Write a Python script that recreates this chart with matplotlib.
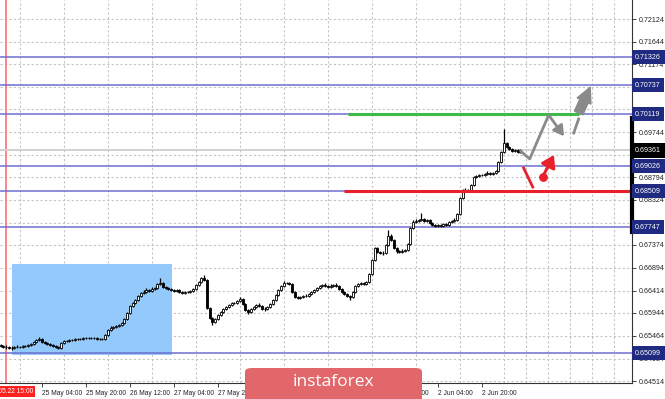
import matplotlib
matplotlib.use("Agg")
import matplotlib.pyplot as plt
import matplotlib.transforms as mtransforms
from matplotlib.patches import Rectangle, FancyBboxPatch
import numpy as np

plt.rcParams['font.family'] = ['Liberation Sans', 'DejaVu Sans']

# --- datos (velas H1, apertura = cierre anterior) ---
first_open = 0.65272
closes = [
    0.65251, 0.65230, 0.65230, 0.65209, 0.65209, 0.65230, 0.65230, 0.65230, 0.65251, 0.65251,
    0.65272, 0.65293, 0.65335, 0.65377, 0.65398, 0.65335, 0.65314, 0.65293, 0.65272, 0.65251,
    0.65230, 0.65209, 0.65314, 0.65356, 0.65356, 0.65377, 0.65377, 0.65398, 0.65398, 0.65398,
    0.65419, 0.65419, 0.65419, 0.65419, 0.65419, 0.65398, 0.65398, 0.65398, 0.65482, 0.65587,
    0.65629, 0.65650, 0.65671, 0.65692, 0.65734, 0.65818, 0.65944, 0.66092, 0.66155, 0.66218,
    0.66302, 0.66365, 0.66386, 0.66428, 0.66407, 0.66449, 0.66470, 0.66554, 0.66575, 0.66491,
    0.66470, 0.66449, 0.66428, 0.66407, 0.66428, 0.66386, 0.66365, 0.66386, 0.66386, 0.66407,
    0.66449, 0.66533, 0.66596, 0.66680, 0.66638, 0.66050, 0.65839, 0.65755, 0.65818, 0.65902,
    0.65965, 0.66028, 0.66071, 0.66113, 0.66155, 0.66155, 0.66197, 0.66239, 0.66134, 0.66007,
    0.65965, 0.66028, 0.66071, 0.66113, 0.66092, 0.66028, 0.66028, 0.66071, 0.66134, 0.66218,
    0.66323, 0.66428, 0.66512, 0.66575, 0.66575, 0.66554, 0.66386, 0.66281, 0.66260, 0.66281,
    0.66302, 0.66302, 0.66344, 0.66386, 0.66428, 0.66470, 0.66512, 0.66533, 0.66512, 0.66491,
    0.66512, 0.66533, 0.66512, 0.66449, 0.66386, 0.66344, 0.66302, 0.66281, 0.66386, 0.66512,
    0.66554, 0.66575, 0.66554, 0.66596, 0.66764, 0.67058, 0.67311, 0.67227, 0.67206, 0.67206,
    0.67374, 0.67563, 0.67479, 0.67311, 0.67248, 0.67227, 0.67248, 0.67269, 0.67395, 0.67731,
    0.67857, 0.67878, 0.67899, 0.67920, 0.67878, 0.67899, 0.67836, 0.67794, 0.67773, 0.67794,
    0.67773, 0.67815, 0.67794, 0.67857, 0.67878, 0.67899, 0.68026, 0.68362, 0.68530, 0.68509,
    0.68530, 0.68635, 0.68803, 0.68824, 0.68845, 0.68845, 0.68866, 0.68887, 0.68866, 0.68887,
    0.68930, 0.69119, 0.69329, 0.69518, 0.69434, 0.69392, 0.69350, 0.69371, 0.69329, 0.69361,
]
highs = [
    0.65300, 0.65275, 0.65262, 0.65248, 0.65240, 0.65255, 0.65265, 0.65250, 0.65280, 0.65275,
    0.65300, 0.65320, 0.65360, 0.65405, 0.65440, 0.65410, 0.65350, 0.65330, 0.65310, 0.65290,
    0.65270, 0.65245, 0.65330, 0.65375, 0.65385, 0.65400, 0.65395, 0.65420, 0.65415, 0.65425,
    0.65440, 0.65435, 0.65440, 0.65435, 0.65440, 0.65430, 0.65420, 0.65415, 0.65500, 0.65610,
    0.65660, 0.65680, 0.65700, 0.65720, 0.65760, 0.65845, 0.65970, 0.66120, 0.66185, 0.66245,
    0.66330, 0.66395, 0.66420, 0.66460, 0.66450, 0.66480, 0.66500, 0.66580, 0.66680, 0.66600,
    0.66510, 0.66490, 0.66470, 0.66450, 0.66455, 0.66445, 0.66400, 0.66410, 0.66415, 0.66430,
    0.66470, 0.66555, 0.66620, 0.66705, 0.66743, 0.66650, 0.66070, 0.65860, 0.65845, 0.65925,
    0.65990, 0.66055, 0.66095, 0.66140, 0.66180, 0.66185, 0.66225, 0.66280, 0.66260, 0.66150,
    0.66025, 0.66050, 0.66095, 0.66140, 0.66150, 0.66110, 0.66060, 0.66100, 0.66160, 0.66245,
    0.66350, 0.66455, 0.66540, 0.66610, 0.66605, 0.66600, 0.66570, 0.66400, 0.66305, 0.66310,
    0.66330, 0.66335, 0.66370, 0.66410, 0.66455, 0.66500, 0.66540, 0.66560, 0.66570, 0.66530,
    0.66545, 0.66560, 0.66575, 0.66530, 0.66465, 0.66400, 0.66360, 0.66320, 0.66410, 0.66535,
    0.66580, 0.66605, 0.66600, 0.66625, 0.66790, 0.67085, 0.67340, 0.67335, 0.67250, 0.67240,
    0.67400, 0.67689, 0.67600, 0.67500, 0.67330, 0.67275, 0.67280, 0.67300, 0.67420, 0.67760,
    0.67890, 0.67910, 0.67930, 0.68047, 0.67950, 0.67925, 0.67915, 0.67855, 0.67815, 0.67820,
    0.67815, 0.67840, 0.67835, 0.67885, 0.67905, 0.67935, 0.68050, 0.68390, 0.68560, 0.68575,
    0.68560, 0.68660, 0.68830, 0.68855, 0.68870, 0.68875, 0.68895, 0.68920, 0.68910, 0.68915,
    0.68960, 0.69150, 0.69360, 0.69813, 0.69545, 0.69460, 0.69410, 0.69400, 0.69390, 0.69385,
]
lows = [
    0.65220, 0.65200, 0.65195, 0.65180, 0.65170, 0.65190, 0.65205, 0.65200, 0.65215, 0.65225,
    0.65235, 0.65255, 0.65280, 0.65320, 0.65360, 0.65310, 0.65290, 0.65270, 0.65250, 0.65225,
    0.65200, 0.65188, 0.65195, 0.65300, 0.65330, 0.65340, 0.65350, 0.65360, 0.65375, 0.65380,
    0.65385, 0.65395, 0.65400, 0.65395, 0.65400, 0.65375, 0.65380, 0.65370, 0.65385, 0.65470,
    0.65570, 0.65610, 0.65630, 0.65655, 0.65675, 0.65720, 0.65800, 0.65930, 0.66070, 0.66140,
    0.66200, 0.66285, 0.66345, 0.66370, 0.66380, 0.66390, 0.66430, 0.66455, 0.66530, 0.66470,
    0.66445, 0.66425, 0.66400, 0.66385, 0.66390, 0.66360, 0.66340, 0.66350, 0.66360, 0.66370,
    0.66390, 0.66435, 0.66515, 0.66580, 0.66615, 0.66030, 0.65810, 0.65692, 0.65735, 0.65800,
    0.65885, 0.65950, 0.66010, 0.66050, 0.66095, 0.66130, 0.66140, 0.66180, 0.66110, 0.65980,
    0.65920, 0.65945, 0.66010, 0.66055, 0.66070, 0.66000, 0.65995, 0.66010, 0.66055, 0.66115,
    0.66200, 0.66305, 0.66410, 0.66495, 0.66545, 0.66530, 0.66360, 0.66255, 0.66230, 0.66240,
    0.66260, 0.66275, 0.66285, 0.66325, 0.66370, 0.66410, 0.66455, 0.66490, 0.66490, 0.66465,
    0.66470, 0.66495, 0.66490, 0.66425, 0.66360, 0.66320, 0.66275, 0.66218, 0.66265, 0.66370,
    0.66495, 0.66530, 0.66525, 0.66530, 0.66575, 0.66745, 0.67040, 0.67200, 0.67180, 0.67170,
    0.67190, 0.67355, 0.67450, 0.67285, 0.67215, 0.67195, 0.67205, 0.67225, 0.67250, 0.67380,
    0.67710, 0.67835, 0.67855, 0.67880, 0.67850, 0.67860, 0.67810, 0.67765, 0.67745, 0.67750,
    0.67745, 0.67755, 0.67770, 0.67775, 0.67840, 0.67860, 0.67885, 0.68010, 0.68340, 0.68480,
    0.68485, 0.68510, 0.68615, 0.68780, 0.68800, 0.68815, 0.68825, 0.68845, 0.68840, 0.68845,
    0.68870, 0.68910, 0.69100, 0.69300, 0.69410, 0.69365, 0.69320, 0.69335, 0.69300, 0.69310,
]

price_ticks = [0.64514, 0.64984, 0.65464, 0.65944, 0.66414, 0.66894, 0.67374, 0.67844, 0.68324,
               0.68794, 0.69274, 0.69744, 0.70224, 0.70704, 0.71174, 0.71644, 0.72124]
level_prices = [0.71326, 0.70737, 0.70119, 0.69026, 0.68509, 0.67747, 0.65099]
current_price = 0.69361
scale_range = (0.67647, 0.70038)

time_bars = [15, 31, 47, 63, 79, 95, 111, 127, 143, 159, 175]
time_labels = ["25 May 04:00", "25 May 20:00", "26 May 12:00", "27 May 04:00", "27 May 20:00",
               "28 May 12:00", "29 May 04:00", "29 May 20:00", "1 Jun 12:00", "2 Jun 04:00",
               "2 Jun 20:00"]
marker_bar = 2
marker_label = "2020.05.22 15:00"

zone_bars = [4.2, 62.2]
zone_prices = [0.65061, 0.66975]

green_bars = [126.5, 210.2]
green_price = 0.70119
red_bars = [124.7, 229.6]
red_price = 0.68509

gray_path_bars = [189.1, 192.4, 199.3]
gray_path_prices = [0.69350, 0.69182, 0.70107]
gray_down_tip = (204.9, 0.69660)
gray_up_tail_bars = [208.4, 210.2]
gray_up_tail_prices = [0.69729, 0.70023]
gray_up_head = [(210.2, 0.70149), (214.4, 0.70690)]

red_slash_bars = [190.2, 193.5]
red_slash_prices = [0.68993, 0.68593]
red_ball = (197.1, 0.68804)
red_tip = (201.2, 0.69266)

# --- figura ---
fig = plt.figure(figsize=(6.65, 3.99), dpi=100)
ax = fig.add_axes([0, 16 / 399, 632 / 665, 383 / 399])
ax.set_xlim(-0.2, 229.6)
ax.set_ylim(0.64472, 0.72525)

# rejilla punteada
grid_bars = np.arange(7, 230, 8)
ax.set_xticks(grid_bars, minor=True)
ax.grid(which='minor', axis='x', color='#c4c4c4', linestyle=(0, (2, 2)), linewidth=0.8)
ax.grid(which='major', axis='y', color='#c4c4c4', linestyle=(0, (2, 2)), linewidth=0.8)
ax.set_axisbelow(True)

ax.add_patch(Rectangle((zone_bars[0], zone_prices[0]), zone_bars[1] - zone_bars[0],
                       zone_prices[1] - zone_prices[0], facecolor='#94c9fb', edgecolor='none', zorder=1))

ax.axvline(marker_bar, color='#ff7070', lw=1.2, zorder=1.5)
for p in level_prices:
    ax.axhline(p, color='#6e6ed0', lw=1.1, zorder=1.6)
ax.axhline(current_price, color='#d0d0d0', lw=1.4, zorder=1.6)

# velas
x = np.arange(len(closes))
c = np.array(closes)
o = np.array([first_open] + closes[:-1])
ax.vlines(x, lows, highs, color='black', lw=0.9, zorder=3)
bottom = np.minimum(o, c)
height = np.maximum(np.abs(c - o), 0.00005)
faces = ['white' if cc > oo else 'black' for oo, cc in zip(o, c)]
ax.bar(x, height, bottom=bottom, width=0.75, color=faces, edgecolor='black', linewidth=0.6, zorder=3.5)

# niveles objetivo
ax.plot(green_bars, [green_price] * 2, color='#3cba4a', lw=2.2, zorder=4, solid_capstyle='butt')
ax.plot(red_bars, [red_price] * 2, color='#e8202a', lw=2.2, zorder=4, solid_capstyle='butt')

# flechas de pronostico
gray = '#8a8a8a'
ax.plot(gray_path_bars, gray_path_prices, color=gray, lw=2.0, zorder=5, solid_capstyle='round')
ax.annotate('', xy=gray_down_tip, xytext=(gray_path_bars[-1], gray_path_prices[-1]),
            arrowprops=dict(arrowstyle='-|>,head_length=0.6,head_width=0.35', color=gray, lw=2.0,
                            shrinkA=0, shrinkB=0), zorder=5)
ax.plot(gray_up_tail_bars, gray_up_tail_prices, color=gray, lw=2.0, zorder=5)
ax.annotate('', xy=gray_up_head[1], xytext=gray_up_head[0],
            arrowprops=dict(arrowstyle='simple,head_length=0.9,head_width=0.9,tail_width=0.55',
                            color=gray, shrinkA=0, shrinkB=0, mutation_scale=12), zorder=5)

ax.plot(red_slash_bars, red_slash_prices, color='#e8202a', lw=2.0, zorder=5)
ax.annotate('', xy=red_tip, xytext=red_ball,
            arrowprops=dict(arrowstyle='-|>,head_length=0.7,head_width=0.45', color='#e8202a', lw=2.2,
                            shrinkA=0, shrinkB=0), zorder=5)
ax.scatter([red_ball[0]], [red_ball[1]], s=40, color='#e8202a', zorder=5.5, linewidths=0)

# ejes estilo terminal
for s in ['top', 'left']:
    ax.spines[s].set_visible(False)
ax.spines['right'].set_color('#333333')
ax.spines['bottom'].set_color('#333333')
ax.yaxis.tick_right()
ax.set_yticks(price_ticks)
ax.set_yticklabels([f"{p:.5f}" for p in price_ticks])
ax.tick_params(axis='y', which='major', labelsize=5.1, length=3, width=0.6, pad=2, colors='#222222')
ax.set_xticks(time_bars)
ax.set_xticklabels(time_labels, ha='left')
ax.tick_params(axis='x', which='major', labelsize=4.8, length=3, width=0.6, pad=2, colors='#222222')
ax.tick_params(axis='x', which='minor', length=0)

trans_y = mtransforms.blended_transform_factory(ax.transAxes, ax.transData)
ax.plot([1.0, 1.0], scale_range, color='black', lw=3, transform=trans_y, clip_on=False, zorder=6)

for p in level_prices:
    ax.text(1.005, p, f"{p:.5f}", transform=trans_y, fontsize=5.1, color='white', va='center', ha='left',
            bbox=dict(boxstyle='square,pad=0.5', facecolor='#1f2a80', edgecolor='none'),
            clip_on=False, zorder=10)
ax.text(1.005, current_price, f"{current_price:.5f}", transform=trans_y, fontsize=5.1, color='white',
        va='center', ha='left', bbox=dict(boxstyle='square,pad=0.5', facecolor='black', edgecolor='none'),
        clip_on=False, zorder=10)

trans_x = mtransforms.blended_transform_factory(ax.transData, ax.transAxes)
ax.text(marker_bar + 0.6, -0.021, marker_label, transform=trans_x, fontsize=4.8, color='white', va='center',
        ha='center', bbox=dict(boxstyle='square,pad=0.3', facecolor='#ff2020', edgecolor='none'),
        clip_on=False, zorder=10)

# logo
logo = FancyBboxPatch((245 / 665, -0.05), 177 / 665, 0.05 + 31 / 399, boxstyle='round,pad=0,rounding_size=0.01',
                      transform=fig.transFigure, facecolor='#e2676b', edgecolor='none', zorder=20)
fig.patches.append(logo)
fig.text(333 / 665, 1 - 382 / 399, "instaforex", color='white', fontsize=12.5, family='Open Sans',
         ha='center', va='center', zorder=21)

fig.savefig('out.png', dpi=100, facecolor='white')
